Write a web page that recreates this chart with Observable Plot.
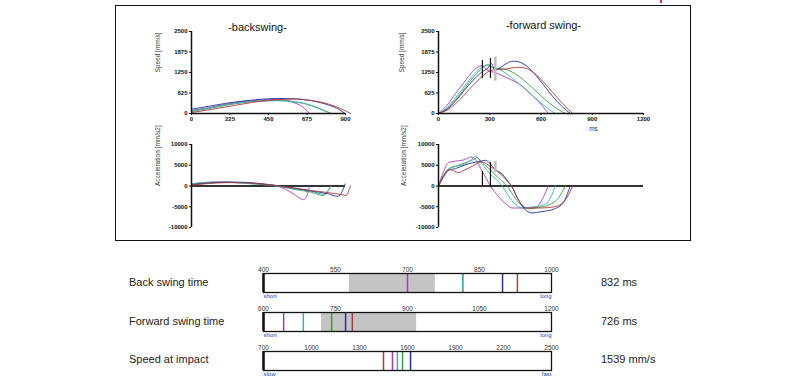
<!DOCTYPE html>
<html><head><meta charset="utf-8">
<script src="https://cdn.jsdelivr.net/npm/d3@7"></script>
<script src="https://cdn.jsdelivr.net/npm/@observablehq/plot@0.6"></script>
<style>
body{margin:0;background:#fff;font-family:Arial,"Liberation Sans",sans-serif;}
#page{position:relative;width:811px;height:388px;overflow:hidden;background:#fff;}
.lbl{position:absolute;font-size:11px;color:#222;line-height:12px;white-space:nowrap;}
</style></head><body><div id="page"></div>
<script>
// ---------- data ----------
const trials = ["T1","T2","T3","T4","T5"];
const trialColors = ["#a23bc4","#3c9c48","#3eb0b0","#23309a","#b03a3a"];

// backswing speed [ms, mm/s]
const bsSpeedT1 = [[0,90],[100,180],[200,280],[300,360],[400,410],[500,430],[560,400],[600,330],[650,200],[690,0]];
const bsSpeedT2 = [[0,60],[100,150],[200,250],[300,330],[400,380],[500,400],[600,360],[650,320],[700,240],[750,140],[815,0]];
const bsSpeedT3 = [[0,80],[100,170],[200,260],[300,340],[400,380],[500,390],[600,350],[700,250],[760,130],[815,0]];
const bsSpeedT4 = [[0,130],[100,220],[200,310],[300,380],[400,430],[500,460],[600,450],[700,390],[800,260],[860,130],[898,0]];
const bsSpeedT5 = [[0,30],[100,110],[200,200],[300,290],[400,370],[500,420],[600,440],[700,400],[800,290],[880,130],[929,0]];

// backswing acceleration [ms, mm/s2]
const bsAccT1 = [[0,500],[100,900],[200,1000],[300,800],[400,500],[500,0],[550,-800],[600,-2000],[655,-3300],[675,-2300],[690,0]];
const bsAccT2 = [[0,400],[100,800],[200,900],[300,700],[400,400],[500,0],[600,-800],[700,-1500],[772,-2300],[795,-1400],[815,0]];
const bsAccT3 = [[0,500],[100,900],[200,900],[300,700],[400,400],[500,0],[600,-700],[700,-1300],[775,-2000],[797,-1100],[815,0]];
const bsAccT4 = [[0,300],[100,700],[200,900],[300,900],[400,600],[500,100],[600,-500],[700,-1200],[800,-1900],[855,-2500],[882,-1200],[898,500]];
const bsAccT5 = [[0,200],[100,600],[200,800],[300,800],[400,500],[500,100],[600,-500],[700,-1100],[800,-1600],[880,-2100],[905,-2300],[918,-1200],[929,0]];

// forward swing speed [ms, mm/s]
const fsSpeedT1 = [[0,0],[50,250],[100,610],[150,950],[200,1280],[255,1460],[290,1310],[330,1250],[372,1160],[420,1040],[468,915],[520,690],[567,457],[610,220],[642,0]];
const fsSpeedT2 = [[0,0],[50,150],[100,420],[150,750],[200,1080],[250,1350],[290,1480],[320,1390],[360,1370],[400,1330],[450,1210],[500,1010],[550,780],[600,540],[650,310],[700,130],[742,0]];
const fsSpeedT3 = [[0,0],[50,180],[100,480],[150,820],[200,1150],[250,1400],[290,1490],[320,1390],[360,1330],[400,1200],[450,1000],[500,780],[550,550],[600,320],[650,120],[683,0]];
const fsSpeedT4 = [[0,0],[50,130],[100,380],[150,700],[200,1000],[250,1250],[295,1420],[310,1520],[330,1330],[370,1430],[400,1530],[435,1595],[470,1575],[520,1430],[570,1160],[620,840],[670,510],[720,230],[771,0]];
const fsSpeedT5 = [[0,0],[50,100],[100,300],[150,560],[200,850],[250,1100],[300,1300],[340,1340],[380,1350],[430,1390],[470,1410],[520,1360],[570,1190],[620,930],[670,630],[720,340],[760,130],[785,0]];

// forward swing acceleration [ms, mm/s2]
const fsAccT1 = [[0,0],[30,3500],[60,5700],[100,6000],[150,6300],[190,7000],[220,6200],[255,3600],[280,1800],[304,0],[350,-2500],[400,-4500],[430,-5300],[500,-5300],[570,-5200],[610,-3000],[642,0]];
const fsAccT2 = [[0,0],[30,2500],[60,4200],[100,4800],[150,5500],[200,6300],[226,6800],[260,5500],[300,4000],[350,2000],[402,0],[450,-3000],[490,-4800],[526,-5500],[580,-5200],[650,-4500],[700,-3000],[742,0]];
const fsAccT3 = [[0,0],[30,2500],[60,4000],[100,4700],[150,5200],[190,6200],[216,7200],[250,5500],[300,3000],[340,1500],[372,0],[420,-3000],[460,-4800],[497,-5300],[560,-5000],[620,-4500],[660,-2500],[683,0]];
const fsAccT4 = [[0,0],[30,2200],[60,3800],[100,4200],[150,5000],[200,5600],[250,6000],[275,6200],[300,5500],[330,4000],[370,3000],[400,1500],[427,0],[470,-3500],[510,-5800],[548,-6500],[600,-6200],[680,-5500],[730,-4000],[771,0]];
const fsAccT5 = [[0,0],[30,2500],[60,4000],[90,3600],[117,3200],[150,3800],[200,4800],[255,5800],[300,4800],[330,4000],[360,3000],[380,2200],[405,1000],[428,0],[470,-3500],[520,-5300],[600,-5300],[680,-5000],[740,-3500],[785,0]];

// event markers in forward swing
const markT = [257, 304];
const markSpeedLo = [1065, 1065];
const markSpeedHi = [1615, 1680];
const markAccLo = [0, -400];
const markAccHi = [3500, 5700];
const grayMarkT = [333];
const grayMarkSpeedLo = [985];
const grayMarkSpeedHi = [1720];
const grayMarkAccLo = [3200];
const grayMarkAccHi = [5900];

// axis ticks
const bsTimeTicks = [0, 225, 450, 675, 900];
const fsTimeTicks = [0, 300, 600, 900, 1200];
const speedTicks = [0, 625, 1250, 1875, 2500];
const accTicks = [-10000, -5000, 0, 5000, 10000];

// summary bars
const bar1Ticks = [400, 550, 700, 850, 1000];
const bar1Range = [579, 758];
const bar1Values = [700, 815, 815, 898, 929];
const bar2Ticks = [600, 750, 900, 1050, 1200];
const bar2Range = [721, 919];
const bar2Values = [642, 742, 683, 771, 785];
const bar3Ticks = [700, 1000, 1300, 1600, 1900, 2200, 2500];
const bar3Values = [1506, 1569, 1537, 1619, 1450];

const rowLabels = ["Back swing time", "Forward swing time", "Speed at impact"];
const rowResults = ["832 ms", "726 ms", "1539 mm/s"];

// ---------- helpers ----------
const page = document.getElementById("page");
const rows = list => list.flatMap((pts, i) => pts.map(([t, v]) => ({t, v, trial: trials[i]})));
const fmt = d => String(d);
const style = {fontFamily: "Arial, 'Liberation Sans', sans-serif", fontSize: "6px", color: "#111", background: "transparent", overflow: "visible"};
const color = {domain: trials, range: trialColors};

function place(node, left, top) {
  const d = document.createElement("div");
  d.style.cssText = `position:absolute;left:${left}px;top:${top}px;`;
  d.appendChild(node);
  page.appendChild(d);
}
function addText(txt, left, top, cls) {
  const d = document.createElement("div");
  d.className = "lbl";
  d.style.left = left + "px"; d.style.top = top + "px";
  d.textContent = txt;
  page.appendChild(d);
}

// frame box
const box = document.createElement("div");
box.style.cssText = "position:absolute;left:115px;top:5px;width:576px;height:236px;border:1.5px solid #111;box-sizing:border-box;";
page.appendChild(box);
const redTick = document.createElement("div");
redTick.style.cssText = "position:absolute;left:660px;top:0px;width:2px;height:3px;background:#d0306a;";
page.appendChild(redTick);

const lineOpts = {x: "t", y: "v", stroke: "trial", curve: "monotone-x", strokeWidth: 0.9};
const markerRows = (ts, lo, hi) => ts.map((t, i) => ({t, lo: lo[i], hi: hi[i]}));

// Panel A: backswing speed
place(Plot.plot({
  width: 230, height: 115, marginLeft: 51, marginRight: 25, marginTop: 16, marginBottom: 17,
  style, color,
  x: {domain: [0, 900]}, y: {domain: [0, 2500]},
  marks: [
    Plot.axisX({ticks: bsTimeTicks, tickSize: 2, tickPadding: 1, tickFormat: fmt, label: null, fontWeight: "bold"}),
    Plot.axisY({ticks: speedTicks, tickSize: 2, tickPadding: 2, tickFormat: fmt, label: null, fontWeight: "bold"}),
    Plot.line(rows([bsSpeedT1, bsSpeedT2, bsSpeedT3, bsSpeedT4, bsSpeedT5]), lineOpts),
    Plot.ruleY([0], {stroke: "#111", strokeWidth: 1.5}),
    Plot.ruleX([0], {stroke: "#111", strokeWidth: 1.5}),
    Plot.text(["Speed [mm/s]"], {text: d => d, frameAnchor: "left", dx: -34, rotate: -90, fontSize: 6.5, fill: "#333"}),
    Plot.text(["-backswing-"], {text: d => d, frameAnchor: "top", dx: -11, dy: -4, lineAnchor: "middle", fontSize: 11, fill: "#111"})
  ]
}), 140, 15);

// Panel B: forward swing speed
place(Plot.plot({
  width: 290, height: 120, marginLeft: 53, marginRight: 32, marginTop: 16, marginBottom: 22,
  style, color,
  x: {domain: [0, 1200]}, y: {domain: [0, 2500]},
  marks: [
    Plot.axisX({ticks: fsTimeTicks, tickSize: 2, tickPadding: 1, tickFormat: fmt, label: null, fontWeight: "bold"}),
    Plot.axisY({ticks: speedTicks, tickSize: 2, tickPadding: 2, tickFormat: fmt, label: null, fontWeight: "bold"}),
    Plot.line(rows([fsSpeedT1, fsSpeedT2, fsSpeedT3, fsSpeedT4, fsSpeedT5]), lineOpts),
    Plot.ruleX(markerRows(markT, markSpeedLo, markSpeedHi), {x: "t", y1: "lo", y2: "hi", stroke: "#111", strokeWidth: 1.2}),
    Plot.ruleX(markerRows(grayMarkT, grayMarkSpeedLo, grayMarkSpeedHi), {x: "t", y1: "lo", y2: "hi", stroke: "#bdbdbd", strokeWidth: 2.5}),
    Plot.ruleY([0], {stroke: "#111", strokeWidth: 1.5}),
    Plot.ruleX([0], {stroke: "#111", strokeWidth: 1.5}),
    Plot.text(["Speed [mm/s]"], {text: d => d, frameAnchor: "left", dx: -37, rotate: -90, fontSize: 6.5, fill: "#333"}),
    Plot.text(["ms"], {text: d => d, frameAnchor: "bottom", dx: 52.5, dy: 15, lineAnchor: "middle", fontSize: 6.5, fill: "#333"}),
    Plot.text(["-forward swing-"], {text: d => d, frameAnchor: "top", dx: 2.5, dy: -6, lineAnchor: "middle", fontSize: 11, fill: "#111"})
  ]
}), 385, 15);

// Panel C: backswing acceleration
place(Plot.plot({
  width: 230, height: 100, marginLeft: 51, marginRight: 25, marginTop: 9, marginBottom: 8,
  style, color,
  x: {domain: [0, 900], axis: null}, y: {domain: [-10000, 10000]},
  marks: [
    Plot.axisY({ticks: accTicks, tickSize: 2, tickPadding: 2, tickFormat: fmt, label: null, fontWeight: "bold"}),
    Plot.ruleY([0], {stroke: "#333", strokeWidth: 2}),
    Plot.line(rows([bsAccT1, bsAccT2, bsAccT3, bsAccT4, bsAccT5]), lineOpts),
    Plot.ruleX([0], {stroke: "#111", strokeWidth: 1.5}),
    Plot.text(["Acceleration [mm/s2]"], {text: d => d, frameAnchor: "left", dx: -34, rotate: -90, fontSize: 6.5, fill: "#333"})
  ]
}), 140, 135);

// Panel D: forward swing acceleration
place(Plot.plot({
  width: 290, height: 100, marginLeft: 53, marginRight: 32, marginTop: 9, marginBottom: 8,
  style, color,
  x: {domain: [0, 1200], axis: null}, y: {domain: [-10000, 10000]},
  marks: [
    Plot.axisY({ticks: accTicks, tickSize: 2, tickPadding: 2, tickFormat: fmt, label: null, fontWeight: "bold"}),
    Plot.ruleY([0], {stroke: "#333", strokeWidth: 2}),
    Plot.line(rows([fsAccT1, fsAccT2, fsAccT3, fsAccT4, fsAccT5]), lineOpts),
    Plot.ruleX(markerRows(markT, markAccLo, markAccHi), {x: "t", y1: "lo", y2: "hi", stroke: "#111", strokeWidth: 1.2}),
    Plot.ruleX(markerRows(grayMarkT, grayMarkAccLo, grayMarkAccHi), {x: "t", y1: "lo", y2: "hi", stroke: "#bdbdbd", strokeWidth: 2.5}),
    Plot.ruleX([0], {stroke: "#111", strokeWidth: 1.5}),
    Plot.text(["Acceleration [mm/s2]"], {text: d => d, frameAnchor: "left", dx: -35, rotate: -90, fontSize: 6.5, fill: "#333"})
  ]
}), 385, 135);

// Summary bars
function bar(ticks, range, values, lowTxt, highTxt, top, mt) {
  const marks = [];
  if (range) marks.push(Plot.rect([range], {x1: d => d[0], x2: d => d[1], fill: "#c4c4c4"}));
  marks.push(
    Plot.ruleX(values.map((v, i) => ({v, trial: trials[i]})), {x: "v", stroke: "trial", strokeWidth: 1.5}),
    Plot.frame({stroke: "#111", strokeWidth: 1.3}),
    Plot.ruleX([ticks[0]], {stroke: "#111", strokeWidth: 2.5}),
    Plot.axisX({anchor: "top", ticks, tickSize: 0, tickPadding: 1.5, tickFormat: fmt, label: null, fontSize: 6.5, fill: "#333"}),
    Plot.text([lowTxt], {text: d => d, frameAnchor: "bottom-left", textAnchor: "start", lineAnchor: "top", dy: 1, fontSize: 6, fill: "#2a3aa8"}),
    Plot.text([highTxt], {text: d => d, frameAnchor: "bottom-right", textAnchor: "end", lineAnchor: "top", dy: 1, fontSize: 6, fill: "#2a3aa8"})
  );
  place(Plot.plot({
    width: 330, height: mt + 19 + 9, marginLeft: 23, marginRight: 19, marginTop: mt, marginBottom: 9,
    style, color,
    x: {domain: [ticks[0], ticks[ticks.length - 1]]},
    marks
  }), 240, top);
}
bar(bar1Ticks, bar1Range, bar1Values, "short", "long", 258, 15);
bar(bar2Ticks, bar2Range, bar2Values, "short", "long", 296, 16);
bar(bar3Ticks, null, bar3Values, "slow", "fast", 335, 16);

// row labels
const rowY = [276, 315, 353];
rowLabels.forEach((t, i) => addText(t, 129, rowY[i]));
rowResults.forEach((t, i) => addText(t, 601, rowY[i]));
</script>
</body></html>
